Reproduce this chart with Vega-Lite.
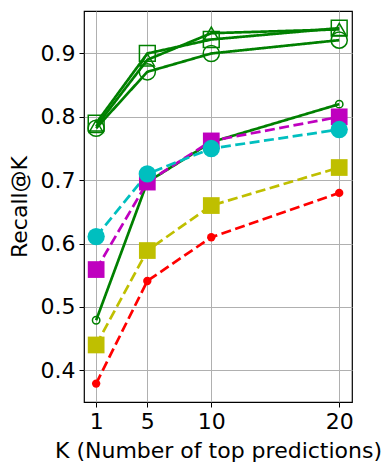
{
  "$schema": "https://vega.github.io/schema/vega-lite/v6.json",
  "autosize": {"type": "none"},
  "padding": {"left": 84, "top": 11, "right": 40, "bottom": 70},
  "width": 268,
  "height": 391,
  "background": "white",
  "config": {
    "font": "DejaVu Sans",
    "view": {"stroke": "black", "strokeWidth": 1.2},
    "axis": {
      "domain": false,
      "grid": true,
      "gridColor": "#b0b0b0",
      "gridWidth": 1,
      "tickColor": "black",
      "tickSize": 5,
      "tickWidth": 1,
      "labelFont": "DejaVu Sans",
      "labelFontSize": 22,
      "labelColor": "black",
      "labelPadding": 4,
      "titleFont": "DejaVu Sans",
      "titleFontSize": 22,
      "titleFontWeight": "normal",
      "titleColor": "black"
    }
  },
  "data": {
    "values": [
      {"s": "g_circle", "k": 1, "r": 0.782}, {"s": "g_circle", "k": 5, "r": 0.871}, {"s": "g_circle", "k": 10, "r": 0.900}, {"s": "g_circle", "k": 20, "r": 0.921},
      {"s": "g_square", "k": 1, "r": 0.790}, {"s": "g_square", "k": 5, "r": 0.900}, {"s": "g_square", "k": 10, "r": 0.922}, {"s": "g_square", "k": 20, "r": 0.940},
      {"s": "g_triangle", "k": 1, "r": 0.785}, {"s": "g_triangle", "k": 5, "r": 0.890}, {"s": "g_triangle", "k": 10, "r": 0.932}, {"s": "g_triangle", "k": 20, "r": 0.938},
      {"s": "g_small", "k": 1, "r": 0.479}, {"s": "g_small", "k": 5, "r": 0.697}, {"s": "g_small", "k": 10, "r": 0.760}, {"s": "g_small", "k": 20, "r": 0.820},
      {"s": "m_square", "k": 1, "r": 0.559}, {"s": "m_square", "k": 5, "r": 0.697}, {"s": "m_square", "k": 10, "r": 0.762}, {"s": "m_square", "k": 20, "r": 0.800},
      {"s": "c_circle", "k": 1, "r": 0.611}, {"s": "c_circle", "k": 5, "r": 0.710}, {"s": "c_circle", "k": 10, "r": 0.750}, {"s": "c_circle", "k": 20, "r": 0.780},
      {"s": "y_square", "k": 1, "r": 0.440}, {"s": "y_square", "k": 5, "r": 0.589}, {"s": "y_square", "k": 10, "r": 0.660}, {"s": "y_square", "k": 20, "r": 0.720},
      {"s": "r_circle", "k": 1, "r": 0.379}, {"s": "r_circle", "k": 5, "r": 0.541}, {"s": "r_circle", "k": 10, "r": 0.610}, {"s": "r_circle", "k": 20, "r": 0.680}
    ]
  },
  "encoding": {
    "x": {
      "field": "k", "type": "quantitative",
      "scale": {"domain": [0.05, 21], "nice": false, "zero": false},
      "axis": {"values": [1, 5, 10, 20], "title": "K (Number of top predictions)", "titlePadding": 8}
    },
    "y": {
      "field": "r", "type": "quantitative",
      "scale": {"domain": [0.35, 0.967], "nice": false, "zero": false},
      "axis": {"values": [0.4, 0.5, 0.6, 0.7, 0.8, 0.9], "format": ".1f", "title": "Recall@K", "titlePadding": 9}
    },
    "color": {
      "field": "s", "type": "nominal", "legend": null,
      "scale": {
        "domain": ["g_circle", "g_square", "g_triangle", "g_small", "m_square", "c_circle", "y_square", "r_circle"],
        "range": ["#008000", "#008000", "#008000", "#008000", "#bf00bf", "#00bfbf", "#bfbf00", "#ff0000"]
      }
    }
  },
  "layer": [
    {
      "mark": {"type": "line", "strokeWidth": 2.7},
      "encoding": {
        "detail": {"field": "s"},
        "strokeDash": {
          "field": "s", "type": "nominal", "legend": null,
          "scale": {
            "domain": ["g_circle", "g_square", "g_triangle", "g_small", "m_square", "c_circle", "y_square", "r_circle"],
            "range": [[1, 0], [1, 0], [1, 0], [1, 0], [10, 4.5], [10, 4.5], [10, 4.5], [10, 4.5]]
          }
        },
        "order": {"field": "k"}
      }
    },
    {
      "transform": [{"filter": "datum.s == 'g_circle'"}],
      "mark": {"type": "point", "shape": "circle", "filled": false, "strokeWidth": 1.5, "opacity": 1, "size": 260}
    },
    {
      "transform": [{"filter": "datum.s == 'g_square'"}],
      "mark": {"type": "point", "shape": "square", "filled": false, "strokeWidth": 1.5, "opacity": 1, "size": 250}
    },
    {
      "transform": [{"filter": "datum.s == 'g_triangle'"}],
      "mark": {"type": "point", "shape": "triangle-up", "filled": false, "strokeWidth": 1.5, "opacity": 1, "size": 200}
    },
    {
      "transform": [{"filter": "datum.s == 'g_small'"}],
      "mark": {"type": "point", "shape": "circle", "filled": false, "strokeWidth": 1.5, "opacity": 1, "size": 55}
    },
    {
      "transform": [{"filter": "datum.s == 'm_square'"}],
      "mark": {"type": "point", "shape": "square", "filled": true, "opacity": 1, "size": 280}
    },
    {
      "transform": [{"filter": "datum.s == 'c_circle'"}],
      "mark": {"type": "point", "shape": "circle", "filled": true, "opacity": 1, "size": 300}
    },
    {
      "transform": [{"filter": "datum.s == 'y_square'"}],
      "mark": {"type": "point", "shape": "square", "filled": true, "opacity": 1, "size": 280}
    },
    {
      "transform": [{"filter": "datum.s == 'r_circle'"}],
      "mark": {"type": "point", "shape": "circle", "filled": true, "opacity": 1, "size": 70}
    }
  ]
}
